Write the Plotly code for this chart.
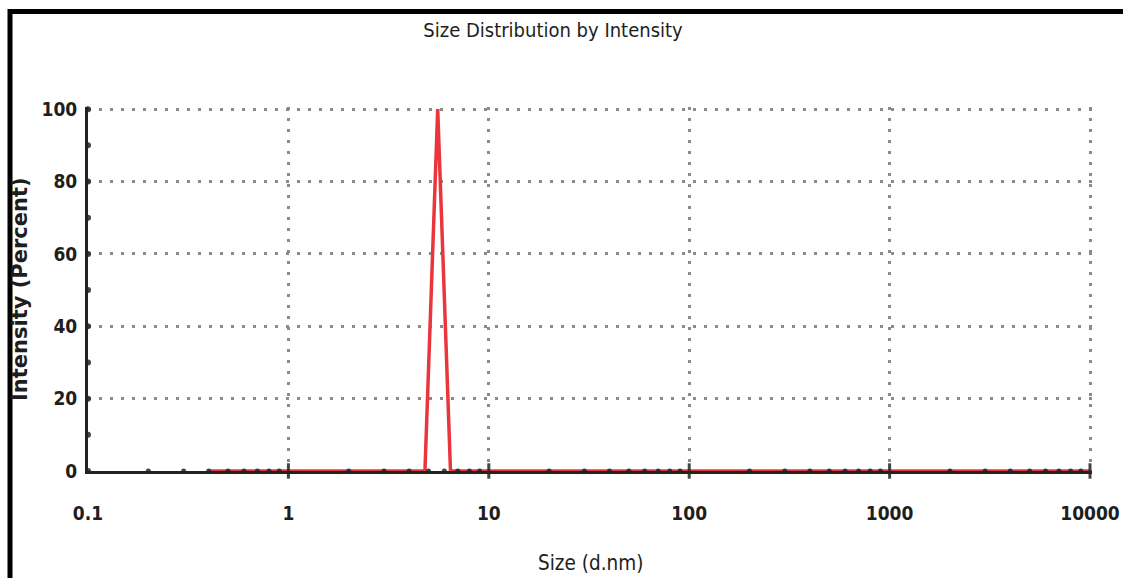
import plotly.graph_objects as go

# ---- data ----
sizes_nm = [0.4, 4.801, 5.56, 6.439, 10000]
intensity_pct = [0, 0, 100, 0, 0]

x_tick_vals = [0.1, 1, 10, 100, 1000, 10000]
x_tick_text = ["0.1", "1", "10", "100", "1000", "10000"]
y_tick_vals = [0, 20, 40, 60, 80, 100]
y_minor_vals = [10, 30, 50, 70, 90]
minor_multipliers = [2, 3, 4, 5, 6, 7, 8, 9]

x_minor_vals = [m * d for d in x_tick_vals[:-1] for m in minor_multipliers]

FONT = "Liberation Sans Narrow, DejaVu Sans Condensed, Arial Narrow, sans-serif"
WIDE_FONT = "DejaVu Sans, Liberation Sans, Arial, sans-serif"
RED = "#e8363c"
DOT = "rgba(35,35,35,0.85)"
GRID = "#8a8a8a"

# figure-pixel geometry
L, T, W, H = 88, 107, 1004, 364
FW, FH = 1123, 578


def px(xp):
    return (xp - L) / W


def py(yp):
    return (T + H - yp) / H


fig = go.Figure()

fig.add_trace(go.Scatter(
    x=sizes_nm, y=intensity_pct, mode="lines",
    line=dict(color=RED, width=3.5), showlegend=False, hoverinfo="x+y",
))

# axis decoration: tick dots on the axes
fig.add_trace(go.Scatter(
    x=x_minor_vals, y=[0] * len(x_minor_vals), mode="markers",
    marker=dict(color=DOT, size=5), cliponaxis=False, showlegend=False, hoverinfo="skip",
))
fig.add_trace(go.Scatter(
    x=x_tick_vals[1:], y=[0] * (len(x_tick_vals) - 1), mode="markers",
    marker=dict(symbol="line-ns", size=11, line=dict(color=DOT, width=3)),
    cliponaxis=False, showlegend=False, hoverinfo="skip",
))
fig.add_trace(go.Scatter(
    x=[x_tick_vals[0]] * (len(y_tick_vals) + len(y_minor_vals)),
    y=y_tick_vals + y_minor_vals, mode="markers",
    marker=dict(color=DOT, size=6), cliponaxis=False, showlegend=False, hoverinfo="skip",
))

fig.update_layout(
    width=FW, height=FH,
    margin=dict(l=L, r=FW - L - W, t=T, b=FH - T - H),
    paper_bgcolor="white", plot_bgcolor="white",
    font=dict(family=FONT, color="#1e1e1e"),
    title=dict(text="Size Distribution by Intensity", x=553 / FW, xanchor="center",
               xref="container", y=1 - 30 / FH, yanchor="middle", yref="container",
               font=dict(family=FONT, size=20, color="#1e1e1e")),
    xaxis=dict(
        type="log", range=[-1, 4.01], automargin=False,
        tickmode="array", tickvals=x_tick_vals, ticktext=x_tick_text,
        ticks="", ticklabelstandoff=23,
        tickfont=dict(family=FONT, size=19, color="#1e1e1e", weight="bold"),
        showgrid=True, gridcolor=GRID, gridwidth=3, griddash="3px,8px",
        showline=True, linecolor="#222222", linewidth=3,
        zeroline=False,
    ),
    yaxis=dict(
        range=[0, 100.6], automargin=False,
        tickmode="array", tickvals=y_tick_vals,
        ticks="", ticklabelstandoff=4,
        tickfont=dict(family=FONT, size=19, color="#1e1e1e", weight="bold"),
        showgrid=True, gridcolor=GRID, gridwidth=3, griddash="3px,8px",
        showline=True, linecolor="#222222", linewidth=3,
        zeroline=False,
    ),
    annotations=[
        dict(text="Intensity (Percent)", xref="paper", yref="paper",
             x=px(20), y=py(289), textangle=-90, showarrow=False,
             xanchor="center", yanchor="middle",
             font=dict(family=WIDE_FONT, size=21, color="#1e1e1e", weight="bold")),
        dict(text="Size (d.nm)", xref="paper", yref="paper",
             x=0.5, y=py(563), showarrow=False,
             xanchor="center", yanchor="middle",
             font=dict(family=FONT, size=20.5, color="#1e1e1e")),
    ],
    shapes=[
        dict(type="line", xref="paper", yref="paper",
             x0=px(8), x1=px(FW + 10), y0=py(11.5), y1=py(11.5),
             line=dict(color="black", width=5)),
        dict(type="line", xref="paper", yref="paper",
             x0=px(10), x1=px(10), y0=py(9), y1=py(FH + 10),
             line=dict(color="black", width=5)),
    ],
)

fig.write_html(
    "out.html",
    config={"displayModeBar": False},
    post_script="document.body.style.margin='0px';document.body.style.overflow='hidden';",
)
